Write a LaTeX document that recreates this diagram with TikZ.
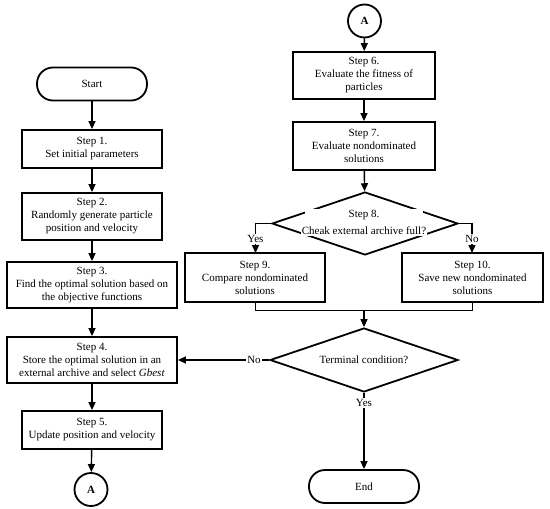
\documentclass[tikz,border=0pt]{standalone}
\usepackage{fontspec}
\setmainfont{Liberation Serif}
\usetikzlibrary{shapes.geometric,arrows.meta}
\begin{document}
\begin{tikzpicture}[x=1pt,y=-1pt,
  every node/.style={font=\fontsize{11}{13}\selectfont},
  box/.style={draw,line width=1.8pt,rectangle,align=center,inner sep=1pt},
  term/.style={draw,line width=1.8pt,rounded corners=16pt,minimum width=110pt,minimum height=33pt,align=center},
  conn/.style={draw,line width=1.8pt,circle,minimum size=33pt,inner sep=0pt,font=\fontsize{11}{13}\selectfont\bfseries},
  dia/.style={draw,line width=1.8pt,diamond,inner sep=0pt},
  arr/.style={line width=1.4pt,-{Triangle[length=8pt,width=7pt]}},
  thin/.style={line width=1pt},
  lbl/.style={fill=white,inner sep=1pt}
]
\useasboundingbox (0,0) rectangle (550,509);
% left column
\node[term] (start) at (92,84) {Start};
\node[box,minimum width=140pt,minimum height=38pt] (s1) at (92,149) {Step 1.\\Set initial parameters};
\node[box,minimum width=140pt,minimum height=47pt] (s2) at (92,216.5) {Step 2.\\Randomly generate particle\\position and velocity};
\node[box,minimum width=170pt,minimum height=46pt] (s3) at (92,285) {Step 3.\\Find the optimal solution based on\\the objective functions};
\node[box,minimum width=170pt,minimum height=46pt] (s4) at (92,360) {Step 4.\\Store the optimal solution in an\\external archive and select \textit{Gbest}};
\node[box,minimum width=140pt,minimum height=38pt] (s5) at (92,430) {Step 5.\\Update position and velocity};
\node[conn] (a1) at (91,489.5) {A};
% right column
\node[conn] (a2) at (364.5,21) {A};
\node[box,minimum width=142pt,minimum height=47pt] (s6) at (364,75.5) {Step 6.\\Evaluate the fitness of\\particles};
\node[box,minimum width=142pt,minimum height=48pt] (s7) at (364,146) {Step 7.\\Evaluate nondominated\\solutions};
\node[dia,minimum width=186pt,minimum height=63pt] (d8) at (365,223.5) {};
\node[lbl,minimum width=118pt,minimum height=12pt,inner sep=0pt] (d8a) at (364,215) {Step 8.};
\node[lbl] (d8b) at (364,231) {Cheak external archive full?};
\node[box,minimum width=140pt,minimum height=49pt] (s9) at (255,277.5) {Step 9.\\Compare nondominated\\solutions};
\node[box,minimum width=141pt,minimum height=49pt] (s10) at (472.5,277.5) {Step 10.\\Save new nondominated\\solutions};
\node[dia,minimum width=188pt,minimum height=64pt] (dt) at (364,360) {};
\node (dtt) at (364,360) {Terminal condition?};
\node[term] (end) at (364,486.5) {End};
\coordinate (y9) at (255.5,253);
\coordinate (n10) at (472,253);
\coordinate (m) at (364,310);
% connectors left
\draw[arr] (start) -- (s1);
\draw[arr] (s1) -- (s2);
\draw[arr] (s2) -- (s3);
\draw[arr] (s3) -- (s4);
\draw[arr] (s4) -- (s5);
\draw[arr] (s5) -- (a1);
% connectors right
\draw[arr] (a2) -- (s6);
\draw[arr] (s6) -- (s7);
\draw[arr] (s7) -- (d8);
\draw[arr] (d8.west) -| (y9);
\draw[arr] (d8.east) -| (n10);
\node[lbl] (yes1) at (255.5,239) {Yes};
\node[lbl] (no1) at (472,239) {No};
\draw[thin] (s9.south -| y9) -- (y9 |- m) -- (n10 |- m) -- (s10.south -| n10);
\draw[arr] (m) -- (dt.north);
\draw[arr] (dt.west) -- (s4.east);
\node[lbl] (no2) at (254,360) {No};
\draw[arr] (dt.south) -- (end.north);
\node[lbl] (yes2) at (364,403) {Yes};
\end{tikzpicture}
\end{document}
